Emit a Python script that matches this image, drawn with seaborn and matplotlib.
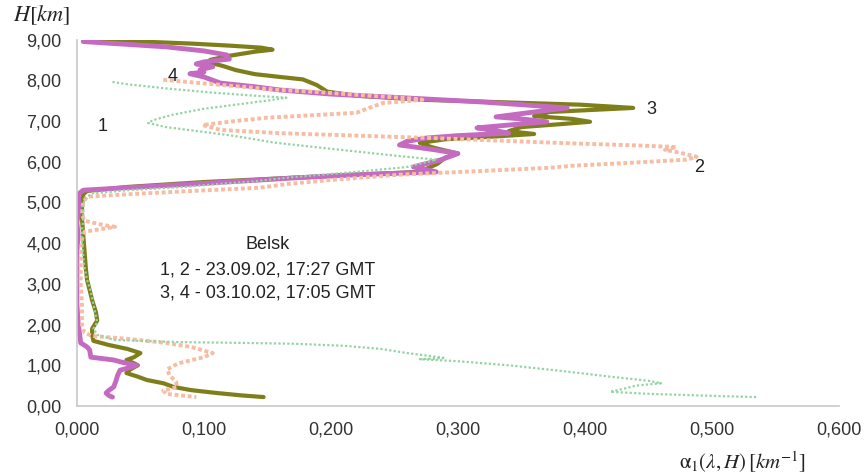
import seaborn as sns
import matplotlib
matplotlib.use("Agg")
import matplotlib.pyplot as plt
from matplotlib.ticker import FuncFormatter, MultipleLocator
import pandas as pd

# profile 1 (green, dotted) - heights [km] and extinction [km^-1]
h1 = [7.96, 7.90, 7.80, 7.70, 7.62, 7.57, 7.50, 7.40, 7.30, 7.15, 7.02, 6.95, 6.85, 6.75,
      6.65, 6.55, 6.47, 6.35, 6.25, 6.15, 6.05, 5.95, 5.87, 5.75, 5.62, 5.52, 5.45, 5.38,
      5.30, 5.22, 5.10, 4.90, 4.60, 4.30, 4.00, 3.70, 3.40, 3.10, 2.80, 2.50, 2.20, 2.05,
      1.90, 1.75, 1.62, 1.57, 1.55, 1.53, 1.48, 1.40, 1.30, 1.22, 1.18, 1.15, 1.10, 1.00,
      0.90, 0.81, 0.72, 0.62, 0.56, 0.50, 0.42, 0.35, 0.30, 0.25, 0.22]
a1 = [0.028, 0.040, 0.070, 0.105, 0.140, 0.165, 0.150, 0.125, 0.100, 0.075, 0.060, 0.056,
      0.070, 0.095, 0.120, 0.140, 0.155, 0.190, 0.220, 0.250, 0.283, 0.270, 0.260, 0.220,
      0.170, 0.140, 0.110, 0.085, 0.040, 0.012, 0.006, 0.005, 0.005, 0.004, 0.004, 0.005,
      0.006, 0.008, 0.011, 0.013, 0.015, 0.016, 0.013, 0.016, 0.030, 0.080, 0.130, 0.170,
      0.210, 0.240, 0.260, 0.280, 0.290, 0.270, 0.300, 0.340, 0.370, 0.396, 0.420, 0.450,
      0.460, 0.440, 0.430, 0.420, 0.450, 0.500, 0.535]

# profile 2 (salmon, dotted)
h2 = [8.01, 7.95, 7.88, 7.80, 7.76, 7.71, 7.62, 7.55, 7.52, 7.44, 7.32, 7.20, 7.08, 7.00,
      6.90, 6.78, 6.70, 6.58, 6.46, 6.40, 6.36, 6.29, 6.22, 6.12, 6.05, 5.98, 5.90, 5.85,
      5.76, 5.68, 5.55, 5.45, 5.36, 5.28, 5.20, 5.14, 5.00, 4.70, 4.55, 4.45, 4.40, 4.35,
      4.28, 4.10, 3.60, 3.00, 2.50, 2.00, 1.80, 1.72, 1.65, 1.55, 1.45, 1.30, 1.20, 1.05,
      0.90, 0.75, 0.60, 0.47, 0.38, 0.30, 0.22]
a2 = [0.068, 0.090, 0.115, 0.145, 0.160, 0.190, 0.230, 0.265, 0.272, 0.241, 0.230, 0.220,
      0.150, 0.125, 0.099, 0.113, 0.160, 0.280, 0.380, 0.440, 0.472, 0.463, 0.475, 0.488,
      0.480, 0.440, 0.390, 0.372, 0.310, 0.254, 0.200, 0.165, 0.144, 0.090, 0.040, 0.008,
      0.005, 0.004, 0.006, 0.020, 0.030, 0.020, 0.006, 0.004, 0.003, 0.003, 0.004, 0.004,
      0.006, 0.012, 0.040, 0.070, 0.090, 0.107, 0.100, 0.080, 0.071, 0.073, 0.078, 0.079,
      0.068, 0.070, 0.094]

# profile 3 (olive, solid)
h3 = [9.00, 8.95, 8.90, 8.85, 8.80, 8.75, 8.70, 8.60, 8.50, 8.43, 8.35, 8.25, 8.15, 8.08,
      8.02, 7.88, 7.72, 7.62, 7.52, 7.40, 7.32, 7.22, 7.12, 7.05, 6.98, 6.92, 6.85, 6.75,
      6.68, 6.62, 6.55, 6.46, 6.35, 6.20, 6.10, 5.95, 5.75, 5.62, 5.50, 5.38, 5.28, 5.20,
      5.00, 4.60, 4.20, 3.80, 3.40, 3.10, 2.60, 2.30, 2.10, 1.90, 1.75, 1.60, 1.50, 1.40,
      1.30, 1.20, 1.13, 1.05, 1.00, 0.90, 0.81, 0.72, 0.64, 0.56, 0.47, 0.39, 0.32, 0.26,
      0.22]
a3 = [0.016, 0.050, 0.090, 0.120, 0.145, 0.154, 0.140, 0.120, 0.105, 0.105, 0.115, 0.125,
      0.140, 0.160, 0.178, 0.189, 0.197, 0.220, 0.272, 0.396, 0.438, 0.372, 0.360, 0.390,
      0.404, 0.380, 0.350, 0.340, 0.360, 0.330, 0.290, 0.270, 0.280, 0.300, 0.290, 0.284,
      0.270, 0.180, 0.100, 0.040, 0.008, 0.005, 0.004, 0.004, 0.005, 0.006, 0.007, 0.008,
      0.012, 0.015, 0.016, 0.012, 0.012, 0.013, 0.025, 0.040, 0.050, 0.045, 0.039, 0.045,
      0.048, 0.042, 0.039, 0.048, 0.055, 0.068, 0.076, 0.090, 0.110, 0.130, 0.147]

# profile 4 (magenta, solid)
h4 = [8.95, 8.90, 8.82, 8.72, 8.62, 8.52, 8.45, 8.40, 8.33, 8.26, 8.20, 8.16, 8.08, 7.93,
      7.84, 7.76, 7.66, 7.58, 7.47, 7.40, 7.32, 7.22, 7.10, 7.05, 6.98, 6.90, 6.83, 6.76,
      6.70, 6.64, 6.58, 6.50, 6.41, 6.30, 6.20, 6.04, 5.87, 5.75, 5.68, 5.60, 5.55, 5.45,
      5.38, 5.30, 5.20, 4.90, 4.50, 4.20, 3.80, 3.00, 2.50, 2.04, 1.80, 1.55, 1.45, 1.38,
      1.20, 1.13, 1.08, 1.00, 0.93, 0.88, 0.75, 0.64, 0.47, 0.38, 0.32, 0.26, 0.22]
a4 = [0.005, 0.030, 0.070, 0.100, 0.118, 0.120, 0.100, 0.094, 0.107, 0.097, 0.100, 0.089,
      0.100, 0.113, 0.140, 0.160, 0.200, 0.250, 0.317, 0.350, 0.386, 0.360, 0.330, 0.350,
      0.370, 0.340, 0.315, 0.330, 0.340, 0.300, 0.275, 0.260, 0.254, 0.280, 0.300, 0.286,
      0.265, 0.283, 0.220, 0.170, 0.144, 0.090, 0.050, 0.005, 0.001, 0.002, 0.000, 0.001,
      0.000, 0.000, 0.000, 0.001, 0.002, 0.003, 0.008, 0.010, 0.011, 0.029, 0.035, 0.047,
      0.040, 0.034, 0.032, 0.031, 0.029, 0.025, 0.023, 0.025, 0.028]

sns.set_style("white")
plt.rcParams['font.family'] = ['Liberation Sans', 'DejaVu Sans']
plt.rcParams['mathtext.fontset'] = 'stix'

fig = plt.figure(figsize=(8.64, 4.76), dpi=100)
ax = fig.add_axes([0.089, 0.147, 0.882, 0.770])

profiles = [
    (h3, a3, "#7e7f1a", "-", 3.0),
    (h4, a4, "#c46ac0", "-", 3.5),
    (h2, a2, "#f7bda3", (0, (1, 0.7)), 2.8),
    (h1, a1, "#93d4a3", (0, (1, 1)), 1.6),
]
for h, a, col, ls, lw in profiles:
    df = pd.DataFrame({'H': h, 'alpha': a})
    sns.lineplot(data=df, x='alpha', y='H', sort=False, estimator=None,
                 color=col, linestyle=ls, linewidth=lw, ax=ax)

ax.set_xlim(0, 0.6)
ax.set_ylim(0, 9)
ax.xaxis.set_major_locator(MultipleLocator(0.1))
ax.yaxis.set_major_locator(MultipleLocator(1))
ax.xaxis.set_major_formatter(FuncFormatter(lambda v, p: f"{v:.3f}".replace('.', ',')))
ax.yaxis.set_major_formatter(FuncFormatter(lambda v, p: f"{v:.2f}".replace('.', ',')))
ax.set_xlabel('')
ax.set_ylabel('')
sns.despine(ax=ax)
for s in ['left', 'bottom']:
    ax.spines[s].set_color('#c8c8c8')
    ax.spines[s].set_linewidth(1.2)
ax.tick_params(axis='both', direction='out', length=5, width=1, color='#c8c8c8',
               labelsize=13, labelcolor='#333333', pad=6)

# curve numbers
for txt, x, y in [('1', 0.0205, 6.86), ('2', 0.490, 5.85), ('3', 0.452, 7.27), ('4', 0.0756, 8.08)]:
    ax.text(x, y, txt, fontsize=13, color='#222222', ha='center', va='center')

ax.text(0.150, 3.96, 'Belsk', fontsize=13, color='#222222', ha='center', va='center')
ax.text(0.150, 3.34, '1, 2 - 23.09.02, 17:27 GMT', fontsize=13, color='#222222',
        ha='center', va='center')
ax.text(0.150, 2.78, '3, 4 - 03.10.02, 17:05 GMT', fontsize=13, color='#222222',
        ha='center', va='center')

ax.text(-0.046, 1.065, r'$H[km]$', transform=ax.transAxes, fontsize=16,
        ha='center', va='center', color='#222222')
ax.text(0.873, -0.153, r'$\mathrm{\alpha}_1(\lambda, H)\,[km^{-1}]$', transform=ax.transAxes,
        fontsize=15, ha='center', va='center', color='#222222')

fig.savefig('out.png', dpi=100)
